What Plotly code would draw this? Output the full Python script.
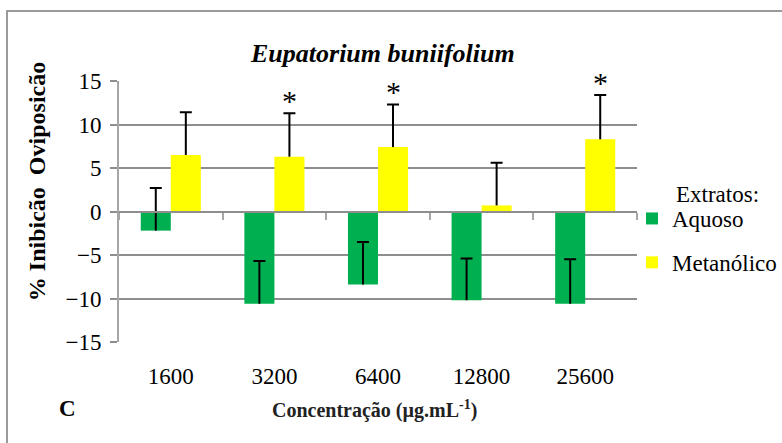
import plotly.graph_objects as go

# ---- data ----
categories = ["1600", "3200", "6400", "12800", "25600"]
aquoso = [-2.2, -10.6, -8.4, -10.2, -10.6]
aquoso_err = [4.9, 4.9, 4.9, 4.8, 5.1]
metanolico = [6.5, 6.3, 7.4, 0.7, 8.3]
metanolico_err = [4.9, 5.0, 4.9, 4.9, 5.1]
signif = ["", "*", "*", "", "*"]
y_ticks = [-15, -10, -5, 0, 5, 10, 15]

SERIF = "Liberation Serif"
GRID = "#8e8e8e"
AXIS = "#a6a6a6"

fig = go.Figure()
series = [("Aquoso", aquoso, aquoso_err, "#00B050", "a"),
          ("Metanólico", metanolico, metanolico_err, "#FFFF00", "b")]
for name, vals, errs, color, grp in series:
    # bar + vertical error line (caps drawn by the helper traces below)
    fig.add_trace(go.Bar(
        x=categories, y=vals, name=name, legendgroup=grp, offsetgroup=grp,
        marker=dict(color=color, line=dict(width=0)), hoverinfo="skip",
        error_y=dict(type="data", symmetric=False, array=errs,
                     arrayminus=[0] * len(vals), color="black", thickness=2, width=0),
    ))
for name, vals, errs, color, grp in series:
    # transparent helper bar: its zero-length error bar draws the cap at value + error
    fig.add_trace(go.Bar(
        x=categories, y=[v + e for v, e in zip(vals, errs)], name=name + " cap",
        legendgroup=grp, offsetgroup=grp, showlegend=False, hoverinfo="skip",
        marker=dict(color="rgba(0,0,0,0)", line=dict(width=0)),
        error_y=dict(type="data", symmetric=False, array=[0] * len(vals),
                     arrayminus=[0] * len(vals), color="black", thickness=2, width=6),
    ))
# invisible trace so the zero-level category axis gets its categories
fig.add_trace(go.Scatter(x=categories, y=[0] * len(categories), xaxis="x2", yaxis="y",
                         showlegend=False, hoverinfo="skip", mode="markers",
                         marker=dict(opacity=0)))

annotations = []
for i, (v, e, s) in enumerate(zip(metanolico, metanolico_err, signif)):
    if s:
        annotations.append(dict(x=i, y=v + e, xref="x", yref="y", text=s, showarrow=False,
                                xshift=15, yshift=-6, yanchor="bottom",
                                font=dict(family=SERIF, size=30, color="black")))

annotations += [
    dict(text="<b><i>Eupatorium buniifolium</i></b>", x=0.5085, y=1.107, xref="paper", yref="paper",
         showarrow=False, xanchor="center", yanchor="middle",
         font=dict(family=SERIF, size=26, color="black")),
    dict(text="<b>% Inibicão  Oviposicão</b>", x=-0.158, y=0.613, xref="paper", yref="paper",
         showarrow=False, textangle=-90, xanchor="center", yanchor="middle",
         font=dict(family=SERIF, size=24, color="black")),
    dict(text="<b>Concentração (µg.mL<sup>-1</sup>)</b>", x=0.494, y=-0.257, xref="paper", yref="paper",
         showarrow=False, xanchor="center", yanchor="middle",
         font=dict(family=SERIF, size=20, color="#222222")),
    dict(text="<b>C</b>", x=-0.0985, y=-0.253, xref="paper", yref="paper",
         showarrow=False, xanchor="center", yanchor="middle",
         font=dict(family=SERIF, size=23, color="black")),
    dict(text="Extratos:", x=(717 - 119) / 518, y=(342 - 194) / 261, xref="paper", yref="paper",
         showarrow=False, xanchor="center", yanchor="middle",
         font=dict(family=SERIF, size=23, color="black")),
]

fig.update_layout(
    width=782, height=443,
    margin=dict(l=119, r=145, t=81, b=101, autoexpand=False),
    paper_bgcolor="white", plot_bgcolor="white",
    barmode="group", bargap=0.42, bargroupgap=0,
    showlegend=True,
    legend=dict(x=(632 - 119) / 518, y=(342 - 197) / 261, xanchor="left", yanchor="top",
                traceorder="grouped", tracegroupgap=11,
                font=dict(family=SERIF, size=23, color="black"),
                bgcolor="rgba(0,0,0,0)"),
    xaxis=dict(type="category", range=[-0.5, 4.5], showline=False, ticks="", showgrid=False,
               zeroline=False, tickfont=dict(family=SERIF, size=23, color="black"),
               ticklabelstandoff=18),
    xaxis2=dict(type="category", range=[-0.5, 4.5], overlaying="x", anchor="free", position=0.5,
                side="bottom", showline=True, linecolor=GRID, linewidth=2,
                ticks="outside", tickson="boundaries", ticklen=7, tickwidth=2, tickcolor=AXIS,
                showticklabels=False, showgrid=False, zeroline=False),
    yaxis=dict(range=[-15, 15], tickmode="array", tickvals=y_ticks,
               showgrid=True, gridcolor=GRID, gridwidth=1.5, zeroline=False,
               showline=True, linecolor=AXIS, linewidth=2,
               ticks="outside", ticklen=7, tickwidth=1.5, tickcolor=GRID,
               tickfont=dict(family=SERIF, size=23, color="black"), ticklabelstandoff=4),
    annotations=annotations,
    shapes=[dict(type="rect", xref="paper", yref="paper", x0=-0.2162, y0=-0.452,
                 x1=1.315, y1=1.268, line=dict(color="#9a9a9a", width=2), fillcolor="rgba(0,0,0,0)",
                 layer="below")],
)

fig.write_html("out.html")
